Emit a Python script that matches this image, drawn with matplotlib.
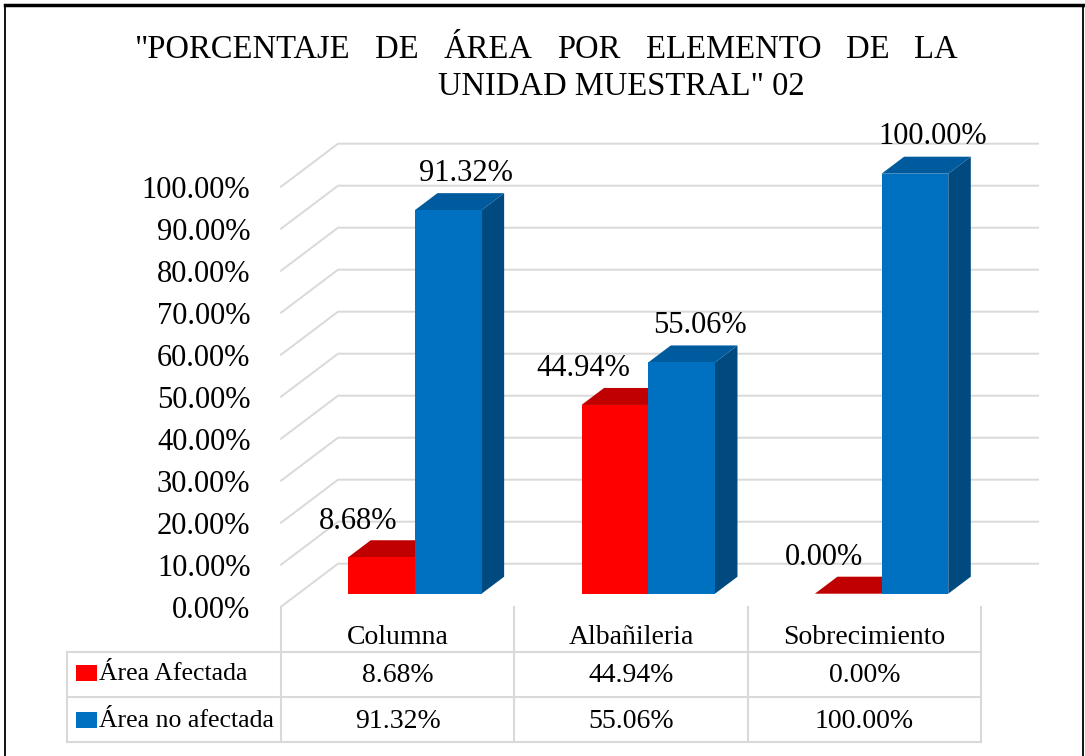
import matplotlib
matplotlib.use("Agg")
import matplotlib.pyplot as plt
from matplotlib import transforms
from matplotlib.patches import Polygon, Rectangle
from matplotlib.lines import Line2D

plt.rcParams['font.family'] = ['Liberation Serif', 'DejaVu Serif']

# data
categories = ['Columna', 'Albañileria', 'Sobrecimiento']
afectada = [8.68, 44.94, 0.00]
no_afectada = [91.32, 55.06, 100.00]
series_names = ['Área Afectada', 'Área no afectada']
y_ticks = [0, 10, 20, 30, 40, 50, 60, 70, 80, 90, 100]
title_line1 = ['"PORCENTAJE', 'DE', 'ÁREA', 'POR', 'ELEMENTO', 'DE', 'LA']
title_line2 = 'UNIDAD MUESTRAL" 02'

# colours: front, top, side
RED = ('#FF0000', '#C00000', '#9E0000')
BLUE = ('#0070C0', '#005A9E', '#004A80')
GRID = '#D9D9D9'

W, H = 1085, 756
fig = plt.figure(figsize=(W / 100, H / 100), dpi=100)


def fx(px):
    return px / W


def fy(py):
    return 1 - py / H


# main axes = front plane of the 3d box
ax = fig.add_axes([fx(281), fy(606.7), 700 / W, 420 / H])
ax.set_xlim(-0.5, 2.5)
ax.set_ylim(0, 100)
ax.patch.set_visible(False)
for s in ax.spines.values():
    s.set_visible(False)
ax.set_xticks([])
ax.set_yticks(y_ticks)
ax.set_yticklabels(['%.2f%%' % v for v in y_ticks], fontsize=22)
ax.tick_params(axis='y', length=0, pad=22)

# depth of the box (in data units) and where the bars sit in it
px_per_cat = 700 / 3
px_per_pct = 420 / 100
DEPTH_X = 57 / px_per_cat
DEPTH_Y = 43 / px_per_pct
D_FRONT = 13 / 43
D_BACK = 30 / 43
bar_w = 66.7 / px_per_cat


def off(d):
    return d * DEPTH_X, d * DEPTH_Y


# gridlines: diagonal on the side wall + line on the back wall
bx, by = off(1)
for v in y_ticks:
    ax.add_line(Line2D([-0.5, -0.5 + bx, 2.5 + bx], [v, v + by, v + by],
                       color=GRID, lw=1.4, clip_on=False, zorder=1))


def bar3d(x0, v, cols, z):
    fx0, fy0 = off(D_FRONT)
    bkx, bky = off(D_BACK)
    x1 = x0 + bar_w
    ax.add_patch(Polygon([(x1 + fx0, fy0), (x1 + bkx, bky), (x1 + bkx, v + bky), (x1 + fx0, v + fy0)],
                         closed=True, facecolor=cols[2], edgecolor='none', clip_on=False, zorder=z))
    ax.add_patch(Polygon([(x0 + fx0, v + fy0), (x1 + fx0, v + fy0), (x1 + bkx, v + bky), (x0 + bkx, v + bky)],
                         closed=True, facecolor=cols[1], edgecolor='none', clip_on=False, zorder=z))
    if v > 0:
        ax.bar(x0 + fx0, v, bar_w, bottom=fy0, align='edge', color=cols[0],
               linewidth=0, clip_on=False, zorder=z)


fx0, fy0 = off(D_FRONT)
for i, (a, b) in enumerate(zip(afectada, no_afectada)):
    bar3d(i - bar_w, a, RED, 2)
    bar3d(i, b, BLUE, 3)
    ax.annotate('%.2f%%' % a, (i + fx0, a + fy0), xytext=(-18, 36), textcoords='offset pixels',
                ha='right', va='center', fontsize=22, zorder=5, annotation_clip=False)
    ax.annotate('%.2f%%' % b, (i + fx0 + bar_w / 2, b + fy0), xytext=(18, 37), textcoords='offset pixels',
                ha='center', va='center', fontsize=22, zorder=5, annotation_clip=False)

# data table
bt = transforms.blended_transform_factory(ax.transData, fig.transFigure)
for xv in [-0.5, 0.5, 1.5, 2.5]:
    fig.add_artist(Line2D([xv, xv], [fy(606.7), fy(742)], transform=bt, color=GRID, lw=1.5))
for yv in [652, 697, 742]:
    fig.add_artist(Line2D([fx(67), fx(981)], [fy(yv), fy(yv)], transform=fig.transFigure, color=GRID, lw=1.5))
fig.add_artist(Line2D([fx(67), fx(67)], [fy(652), fy(742)], transform=fig.transFigure, color=GRID, lw=1.5))

for i, c in enumerate(categories):
    fig.text(i, fy(637), c, transform=bt, ha='center', va='center', fontsize=20)
    fig.text(i, fy(676), '%.2f%%' % afectada[i], transform=bt, ha='center', va='center', fontsize=20)
    fig.text(i, fy(722), '%.2f%%' % no_afectada[i], transform=bt, ha='center', va='center', fontsize=20)

for name, col, yc in zip(series_names, [RED[0], BLUE[0]], [673, 720]):
    fig.add_artist(Rectangle((fx(76), fy(yc + 8)), 21 / W, 16 / H, transform=fig.transFigure,
                             facecolor=col, edgecolor='none'))
    fig.text(fx(99), fy(yc + 1), name, ha='left', va='center', fontsize=18.5)

# title, first line justified between two edges
renderer = fig.canvas.get_renderer()
words = [fig.text(0, fy(50), w, fontsize=23.5, va='center') for w in title_line1]
widths = [t.get_window_extent(renderer).width for t in words]
gap = (958 - 135 - sum(widths)) / (len(words) - 1)
x = 135
for t, wd in zip(words, widths):
    t.set_x(fx(x))
    x += wd + gap
fig.text(fx(621), fy(87), title_line2, ha='center', va='center', fontsize=23.5)

# outer frame
fig.add_artist(Line2D([fx(5), fx(1083)], [fy(5), fy(5)], transform=fig.transFigure, color='black', lw=2.5))
fig.add_artist(Line2D([fx(5), fx(5)], [fy(5), 0], transform=fig.transFigure, color='black', lw=1.3))
fig.add_artist(Line2D([fx(1083), fx(1083)], [fy(5), 0], transform=fig.transFigure, color='black', lw=1.3))

fig.savefig('out.png', dpi=100)
